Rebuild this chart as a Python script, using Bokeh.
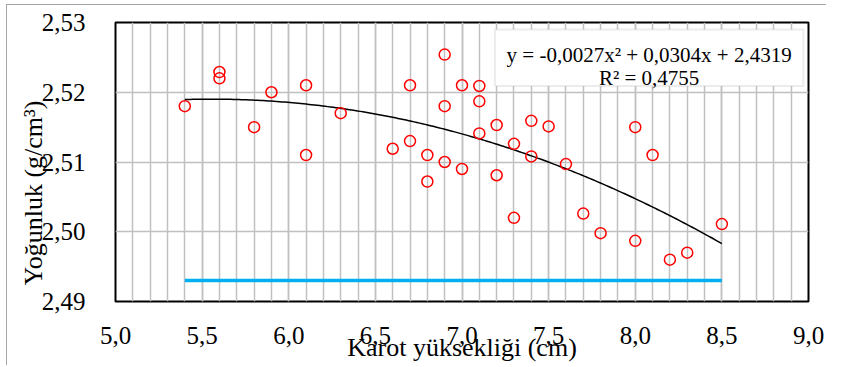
import numpy as np
from bokeh.plotting import figure
from bokeh.models import (SingleIntervalTicker, FixedTicker, CustomJSTickFormatter,
                          Label, BoxAnnotation, Range1d, Title)
from bokeh.embed import file_html
from bokeh.resources import INLINE

# ---- data ----
karot = [5.4, 5.6, 5.6, 5.8, 5.9, 6.1, 6.1, 6.3, 6.6, 6.7, 6.7, 6.8, 6.8,
         6.9, 6.9, 6.9, 7.0, 7.0, 7.1, 7.1, 7.1, 7.2, 7.2, 7.3, 7.3, 7.4,
         7.4, 7.5, 7.6, 7.7, 7.8, 8.0, 8.0, 8.1, 8.2, 8.3, 8.5]
yogunluk = [2.5180, 2.5229, 2.5220, 2.5150, 2.5200, 2.5210, 2.5110, 2.5170,
            2.5119, 2.5210, 2.5130, 2.5110, 2.5072, 2.5254, 2.5180, 2.5100,
            2.5210, 2.5090, 2.5209, 2.5187, 2.5141, 2.5153, 2.5081, 2.5126,
            2.5020, 2.5159, 2.5108, 2.5151, 2.5097, 2.5026, 2.4998, 2.5150,
            2.4987, 2.5110, 2.4960, 2.4970, 2.5011]
ref_x = [5.4, 8.5]
ref_y = [2.493, 2.493]
y_ticks = [2.49, 2.50, 2.51, 2.52, 2.53]
eq_line1 = "y = -0,0027x² + 0,0304x + 2,4319"
eq_line2 = "R² = 0,4755"
x_title = "Karot yüksekliği (cm)"
y_title = "Yoğunluk (g/cm³)"

FONT = "Liberation Serif"
GRID = "#c0c0c0"

frame_css = {
    "background-color": "white",
    "background-image": "linear-gradient(#a6a6a6, #a6a6a6), linear-gradient(#a6a6a6, #a6a6a6)",
    "background-size": "1px 100%, 100% 1px",
    "background-position": "6px 4px, 6px 4px",
    "background-repeat": "no-repeat",
}

p = figure(width=826, height=365, output_backend="svg", toolbar_location=None,
           x_range=Range1d(5.0, 9.0), y_range=Range1d(2.49, 2.53),
           min_border_left=115, min_border_top=22, min_border_bottom=64,
           min_border_right=18, styles=frame_css)
p.background_fill_color = "white"
p.border_fill_color = None
p.outline_line_color = "black"
p.outline_line_width = 2

# axes
p.xaxis.ticker = SingleIntervalTicker(interval=0.5, num_minor_ticks=5)
p.yaxis.ticker = FixedTicker(ticks=y_ticks)
p.xaxis.formatter = CustomJSTickFormatter(code="return tick.toFixed(1).replace('.', ',');")
p.yaxis.formatter = CustomJSTickFormatter(code="return tick.toFixed(2).replace('.', ',');")
for ax in (p.xaxis[0], p.yaxis[0]):
    ax.axis_line_color = None
    ax.major_tick_line_color = None
    ax.minor_tick_line_color = None
    ax.major_label_text_font = FONT
    ax.major_label_text_font_size = "25px"
    ax.major_label_text_color = "black"
p.xaxis.major_label_standoff = 19
p.yaxis.major_label_standoff = 24
p.xaxis.axis_label = x_title
p.xaxis.axis_label_text_font = FONT
p.xaxis.axis_label_text_font_size = "26px"
p.xaxis.axis_label_text_font_style = "normal"
p.xaxis.axis_label_text_color = "black"
p.xaxis.axis_label_standoff = -14

# y title (placed toward the lower part as in the reference)
p.add_layout(Title(text=y_title, align="left", offset=16, vertical_align="bottom",
                   standoff=-18, text_font=FONT, text_font_size="26px",
                   text_font_style="normal", text_color="black"), "left")

# grid
p.xgrid.grid_line_color = GRID
p.xgrid.grid_line_width = 1.5
p.xgrid.minor_grid_line_color = GRID
p.xgrid.minor_grid_line_width = 1.5
p.ygrid.grid_line_color = GRID
p.ygrid.grid_line_width = 1.5

# reference line
p.line(ref_x, ref_y, line_color="#00b0f0", line_width=3.5)

# trend line (2nd order polynomial fit of the data)
coef = np.polyfit(karot, yogunluk, 2)
xs = np.linspace(min(karot), max(karot), 200)
p.line(xs, np.polyval(coef, xs), line_color="black", line_width=1.5)

# points
p.scatter(karot, yogunluk, marker="circle", size=11, fill_color=None,
          line_color="#ff0000", line_width=1.5)

# equation box
p.add_layout(BoxAnnotation(left=7.19, right=8.97, top=2.5290, bottom=2.5209,
                           fill_color="white", fill_alpha=1.0,
                           line_color="#c0c0c0", line_width=2))
p.add_layout(Label(x=8.08, y=2.5253, text=eq_line1, text_align="center",
                   text_baseline="alphabetic", text_font=FONT,
                   text_font_size="21px", text_color="black"))
p.add_layout(Label(x=8.08, y=2.5220, text=eq_line2, text_align="center",
                   text_baseline="alphabetic", text_font=FONT,
                   text_font_size="21px", text_color="black"))

open("out.html", "w").write(file_html(p, INLINE))
